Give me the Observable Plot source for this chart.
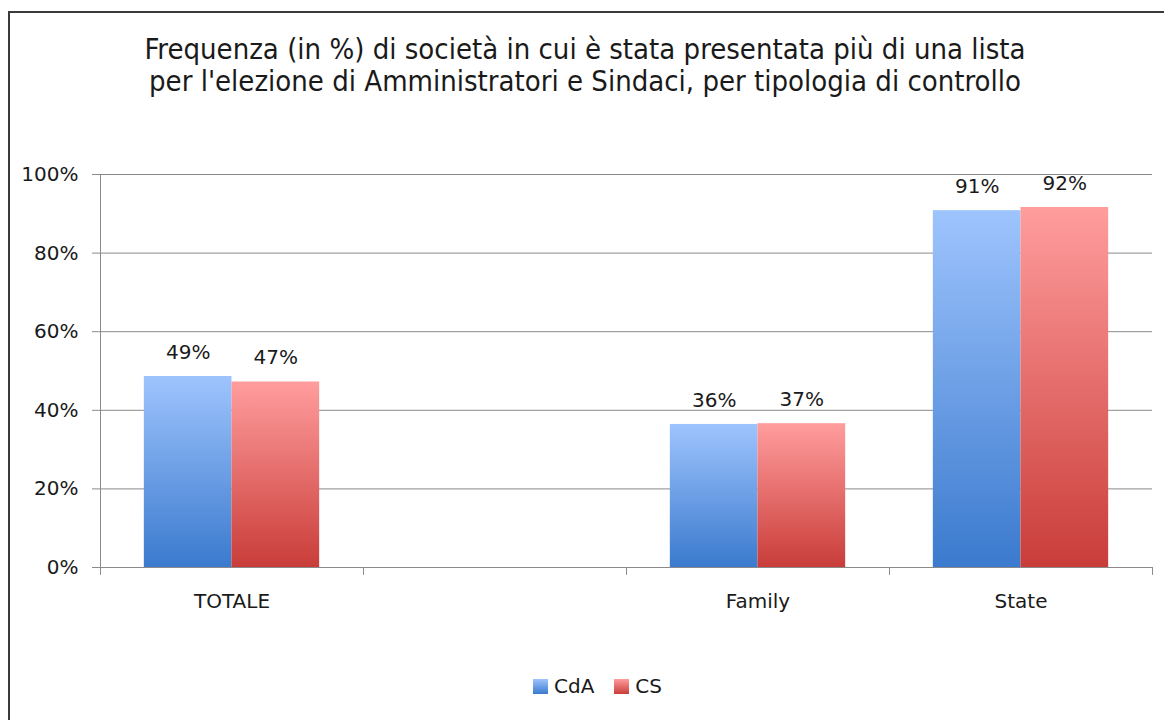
<!DOCTYPE html>
<html>
<head>
<meta charset="utf-8">
<script src="https://cdn.jsdelivr.net/npm/d3@7"></script>
<script src="https://cdn.jsdelivr.net/npm/@observablehq/plot@0.6"></script>
<style>
  body { margin: 0; background: #fff; width: 1164px; height: 720px; overflow: hidden; position: relative; }
  #frameBorder { position: absolute; left: 8px; top: 11px; width: 1200px; height: 800px; border: 2px solid #3a3a3a; }
  #title { position: absolute; left: 0; top: 33px; width: 1170px; text-align: center;
           font-family: "Liberation Sans Narrow", "DejaVu Sans Condensed", sans-serif; font-size: 29px; line-height: 32px; color: #1a1a1a; }
  #chart { position: absolute; left: 0; top: 150px; }
  #legend { position: absolute; left: 533px; top: 674px; display: flex; align-items: center;
            font-family: "DejaVu Sans", sans-serif; font-size: 20px; color: #1a1a1a; }
  .sw { width: 15px; height: 15px; display: inline-block; margin-right: 6px; }
</style>
</head>
<body>
<div id="frameBorder"></div>
<div id="title">Frequenza (in %) di società in cui è stata presentata più di una lista<br>per l'elezione di Amministratori e Sindaci, per tipologia di controllo</div>
<div id="chart"></div>
<div id="legend"></div>
<script>
const categories = ["TOTALE", "", "Family", "State"];
const seriesNames = ["CdA", "CS"];
const cdaValues = [48.6, null, 36.4, 90.8];
const csValues = [47.2, null, 36.6, 91.6];
const yTicks = [0, 20, 40, 60, 80, 100];

const gradients = {
  CdA: { id: "gradBlue", top: "#9ec4fd", bottom: "#3b7ace" },
  CS: { id: "gradRed", top: "#ff9d9d", bottom: "#c93d39" }
};

const rows = [];
categories.forEach((c, i) => {
  if (cdaValues[i] != null) rows.push({ category: c, series: "CdA", value: cdaValues[i] });
  if (csValues[i] != null) rows.push({ category: c, series: "CS", value: csValues[i] });
});

const W = 1164, H = 480, mL = 100, mR = 12, mT = 24, mB = 63;
const bw = (W - mL - mR) / categories.length;
const ns = "http://www.w3.org/2000/svg";

function defsMark() {
  const defs = document.createElementNS(ns, "defs");
  for (const s of seriesNames) {
    const g = gradients[s];
    const lg = document.createElementNS(ns, "linearGradient");
    lg.setAttribute("id", g.id);
    lg.setAttribute("x1", "0"); lg.setAttribute("y1", "0");
    lg.setAttribute("x2", "0"); lg.setAttribute("y2", "1");
    const s1 = document.createElementNS(ns, "stop");
    s1.setAttribute("offset", "0"); s1.setAttribute("stop-color", g.top);
    const s2 = document.createElementNS(ns, "stop");
    s2.setAttribute("offset", "1"); s2.setAttribute("stop-color", g.bottom);
    lg.appendChild(s1); lg.appendChild(s2);
    defs.appendChild(lg);
  }
  return defs;
}

const cda = rows.filter(d => d.series === "CdA");
const cs = rows.filter(d => d.series === "CS");
const gridColor = "#8a8a8a";

const chart = Plot.plot({
  width: W, height: H,
  marginLeft: mL, marginRight: mR, marginTop: mT, marginBottom: mB,
  style: { fontFamily: "DejaVu Sans, sans-serif", fontSize: "20px", color: "#1a1a1a", background: "transparent" },
  x: { domain: categories, padding: 0, axis: null, label: null },
  y: { domain: [0, 100], axis: null, label: null },
  marks: [
    defsMark,
    Plot.ruleY(yTicks.filter(t => t > 0), { y: d => d, stroke: gridColor, strokeWidth: 1 }),
    Plot.barY(cda, { x: "category", y: "value", fill: `url(#${gradients.CdA.id})`, insetLeft: bw / 6, insetRight: bw / 2 }),
    Plot.barY(cs, { x: "category", y: "value", fill: `url(#${gradients.CS.id})`, insetLeft: bw / 2, insetRight: bw / 6 }),
    Plot.ruleY([0], { y: d => d, stroke: gridColor, strokeWidth: 1 }),
    Plot.ruleX([categories[0]], { x: d => d, dx: -bw / 2, y1: -2, y2: 100, stroke: gridColor }),
    Plot.ruleX(categories.slice(1), { x: d => d, dx: -bw / 2, y1: -2, y2: 0, stroke: gridColor }),
    Plot.ruleX([categories[categories.length - 1]], { x: d => d, dx: bw / 2, y1: -2, y2: 0, stroke: gridColor }),
    Plot.axisY({ ticks: yTicks, tickSize: 8, tickPadding: 14, tickFormat: d => d + "%", stroke: gridColor, fontSize: 20, fill: "#1a1a1a", label: null }),
    Plot.axisX({ tickSize: 0, tickPadding: 26, fontSize: 20, fill: "#1a1a1a", label: null }),
    Plot.text(cda, { x: "category", y: "value", text: d => Math.round(d.value) + "%", dx: -bw / 6, dy: -24, fontSize: 20, fill: "#1a1a1a" }),
    Plot.text(cs, { x: "category", y: "value", text: d => Math.round(d.value) + "%", dx: bw / 6, dy: -24, fontSize: 20, fill: "#1a1a1a" })
  ]
});
document.getElementById("chart").appendChild(chart);

const legend = document.getElementById("legend");
seriesNames.forEach((s, i) => {
  const g = gradients[s];
  const sw = document.createElement("span");
  sw.className = "sw";
  sw.style.background = `linear-gradient(${g.top}, ${g.bottom})`;
  const label = document.createElement("span");
  label.textContent = s;
  label.style.marginRight = i === 0 ? "20px" : "0";
  legend.appendChild(sw);
  legend.appendChild(label);
});
</script>
</body>
</html>
